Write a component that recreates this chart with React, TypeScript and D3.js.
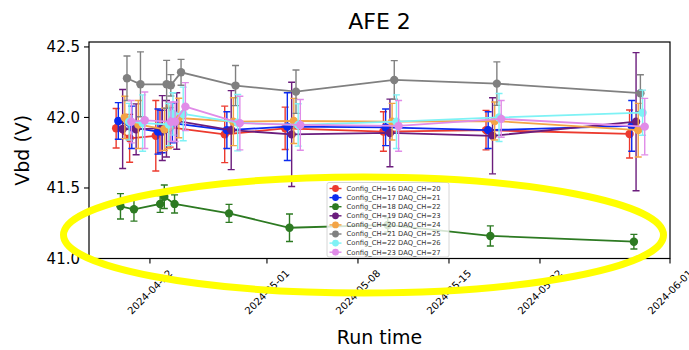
import React from 'react';
import * as d3 from 'd3';

// Base run times (UTC) for the first channel; each channel was measured a few hours later
const runDates = [
  '2024-04-19T09:36:00Z',
  '2024-04-20T10:30:00Z',
  '2024-04-22T10:48:00Z',
  '2024-04-22T18:30:00Z',
  '2024-04-23T13:26:00Z',
  '2024-04-27T18:00:00Z',
  '2024-05-02T09:36:00Z',
  '2024-05-09T23:00:00Z',
  '2024-05-17T20:24:00Z',
  '2024-05-28T21:21:00Z',
];
const channelOffsetHours = [0, 4, 8, 12, 16, 20, 24, 28];

const seriesLabels = [
  'Config_CH=16 DAQ_CH=20',
  'Config_CH=17 DAQ_CH=21',
  'Config_CH=18 DAQ_CH=22',
  'Config_CH=19 DAQ_CH=23',
  'Config_CH=20 DAQ_CH=24',
  'Config_CH=21 DAQ_CH=25',
  'Config_CH=22 DAQ_CH=26',
  'Config_CH=23 DAQ_CH=27',
];
const seriesColors = ['#ec3a2e', '#0b2bef', '#2d7a22', '#6b1d7d', '#f3a446', '#808080', '#7ef2f5', '#e08be8'];

const vbdCH16 = [41.923, 41.852, 41.87, 41.9, 41.93, 41.88, 41.923, 41.9, 41.91, 41.883];
const vbdCH17 = [41.975, 41.93, 41.9, 41.9, 41.96, 41.91, 41.935, 41.93, 41.91, 41.94];
const vbdCH18 = [41.37, 41.349, 41.387, 41.438, 41.387, 41.32, 41.218, 41.238, 41.16, 41.119];
const vbdCH19 = [41.918, 41.916, 41.925, 41.92, 41.975, 41.91, 41.88, 41.89, 41.87, 41.97];
const vbdCH20 = [42.0, 41.95, 41.916, 41.93, 41.996, 41.97, 41.975, 41.97, 41.975, 41.91];
const vbdCH21 = [42.278, 42.235, 42.235, 42.228, 42.32, 42.226, 42.183, 42.266, 42.24, 42.172];
const vbdCH22 = [41.97, 41.96, 41.95, 42.025, 42.025, 41.963, 41.947, 41.97, 42.0, 42.034];
const vbdCH23 = [41.97, 41.98, 41.97, 41.97, 42.077, 41.96, 41.947, 41.94, 41.99, 41.935];

const errCH16 = [0.14, 0.17, 0.25, 0.15, 0.14, 0.2, 0.15, 0.14, 0.14, 0.17];
const errCH17 = [0.13, 0.15, 0.16, 0.15, 0.14, 0.13, 0.24, 0.13, 0.13, 0.18];
const errCH18 = [0.09, 0.084, 0.06, 0.083, 0.064, 0.064, 0.097, 0.05, 0.071, 0.052];
const errCH19 = [0.28, 0.18, 0.23, 0.2, 0.2, 0.28, 0.37, 0.24, 0.27, 0.49];
const errCH20 = [0.15, 0.17, 0.15, 0.15, 0.14, 0.17, 0.16, 0.13, 0.135, 0.19];
const errCH21 = [0.158, 0.23, 0.17, 0.076, 0.092, 0.142, 0.154, 0.137, 0.154, 0.131];
const errCH22 = [0.13, 0.2, 0.15, 0.15, 0.19, 0.2, 0.15, 0.19, 0.17, 0.16];
const errCH23 = [0.15, 0.2, 0.14, 0.14, 0.17, 0.19, 0.18, 0.18, 0.13, 0.2];

const seriesValues = [vbdCH16, vbdCH17, vbdCH18, vbdCH19, vbdCH20, vbdCH21, vbdCH22, vbdCH23];
const seriesErrors = [errCH16, errCH17, errCH18, errCH19, errCH20, errCH21, errCH22, errCH23];

const xTickDates = ['2024-04-22', '2024-05-01', '2024-05-08', '2024-05-15', '2024-05-22', '2024-06-01'];
const yTickValues = [41.0, 41.5, 42.0, 42.5];

const W = 689;
const H = 350;
const plotL = 89;
const plotR = 670;
const plotT = 42;
const plotB = 258.5;
const FONT = 'DejaVu Sans, sans-serif';

export default function App() {
  const x = d3
    .scaleUtc()
    .domain([new Date('2024-04-17T07:30:00Z'), new Date('2024-06-01T00:00:00Z')])
    .range([plotL, plotR]);
  const y = d3.scaleLinear().domain([41.0, 42.535]).range([plotB, plotT]);

  const series = seriesValues.map((vals, si) =>
    vals.map((v, i) => ({
      t: new Date(new Date(runDates[i]).getTime() + channelOffsetHours[si] * 3600 * 1000),
      v,
      e: seriesErrors[si][i],
    }))
  );

  const line = d3
    .line<{ t: Date; v: number }>()
    .x((d) => x(d.t))
    .y((d) => y(d.v));

  const cap = 3.5;
  const fmt = d3.utcFormat('%Y-%m-%d');
  const tickFs = 10;

  const legX = 327;
  const legY = 182.5;
  const legRow = 9.1;

  return (
    <svg
      width={W}
      height={H}
      style={{ position: 'absolute', left: 0, top: 0, background: '#fff' }}
      fontFamily={FONT}
    >
      <rect x={0} y={0} width={W} height={H} fill="#fff" />
      <defs>
        <clipPath id="plotclip">
          <rect x={plotL} y={plotT} width={plotR - plotL} height={plotB - plotT} />
        </clipPath>
      </defs>

      {/* series */}
      <g clipPath="url(#plotclip)">
        {series.map((pts, si) => (
          <g key={si} stroke={seriesColors[si]} fill={seriesColors[si]}>
            {pts.map((d, i) => (
              <g key={i} strokeWidth={1.4}>
                <line x1={x(d.t)} x2={x(d.t)} y1={y(d.v - d.e)} y2={y(d.v + d.e)} />
                <line x1={x(d.t) - cap} x2={x(d.t) + cap} y1={y(d.v - d.e)} y2={y(d.v - d.e)} />
                <line x1={x(d.t) - cap} x2={x(d.t) + cap} y1={y(d.v + d.e)} y2={y(d.v + d.e)} />
              </g>
            ))}
            <path d={line(pts) || ''} fill="none" strokeWidth={1.8} />
            {pts.map((d, i) => (
              <circle key={i} cx={x(d.t)} cy={y(d.v)} r={4.2} stroke="none" />
            ))}
          </g>
        ))}
      </g>

      {/* frame */}
      <rect x={plotL} y={plotT} width={plotR - plotL} height={plotB - plotT} fill="none" stroke="#000" strokeWidth={1.2} />

      {/* y ticks */}
      {yTickValues.map((v) => (
        <g key={v}>
          <line x1={plotL - 5} x2={plotL} y1={y(v)} y2={y(v)} stroke="#000" strokeWidth={1.1} />
          <text x={plotL - 9} y={y(v)} dy="0.36em" textAnchor="end" fontSize={15} fill="#000">
            {v.toFixed(1)}
          </text>
        </g>
      ))}

      {/* x ticks */}
      {xTickDates.map((s) => {
        const t = new Date(s + 'T00:00:00Z');
        const tx = x(t);
        const label = fmt(t);
        const L = label.length * 0.62 * tickFs;
        const half = ((L + tickFs) * Math.SQRT1_2) / 2;
        const cy = plotB + 8 + half;
        return (
          <g key={s}>
            <line x1={tx} x2={tx} y1={plotB} y2={plotB + 5} stroke="#000" strokeWidth={1.1} />
            <text
              transform={`translate(${tx},${cy}) rotate(-45)`}
              textAnchor="middle"
              dy="0.35em"
              fontSize={tickFs}
              fill="#000"
            >
              {label}
            </text>
          </g>
        );
      })}

      {/* axis labels and title */}
      <text x={(plotL + plotR) / 2} y={29} textAnchor="middle" fontSize={22} fill="#000">
        AFE 2
      </text>
      <text x={(plotL + plotR) / 2} y={344} textAnchor="middle" fontSize={19} fill="#000">
        Run time
      </text>
      <text
        transform={`translate(29,${(plotT + plotB) / 2}) rotate(-90)`}
        textAnchor="middle"
        fontSize={19}
        fill="#000"
      >
        Vbd (V)
      </text>

      {/* legend */}
      <g>
        <rect x={legX} y={legY} width={122} height={74.5} rx={2} fill="#fff" fillOpacity={0.8} stroke="#ccc" strokeWidth={0.8} />
        {seriesLabels.map((lab, si) => {
          const ry = legY + 6 + si * legRow;
          const c = seriesColors[si];
          return (
            <g key={lab}>
              <line x1={legX + 2.5} x2={legX + 14.5} y1={ry} y2={ry} stroke={c} strokeWidth={1.4} />
              <line x1={legX + 8.5} x2={legX + 8.5} y1={ry - 3} y2={ry + 3} stroke={c} strokeWidth={1.2} />
              <circle cx={legX + 8.5} cy={ry} r={3.4} fill={c} />
              <text x={legX + 19.5} y={ry} dy="0.35em" fontSize={6.8} fill="#333">
                {lab}
              </text>
            </g>
          );
        })}
      </g>

      {/* yellow highlight ellipse */}
      <ellipse cx={363.5} cy={235} rx={300} ry={58} fill="none" stroke="#ffff00" strokeWidth={7} />
    </svg>
  );
}
